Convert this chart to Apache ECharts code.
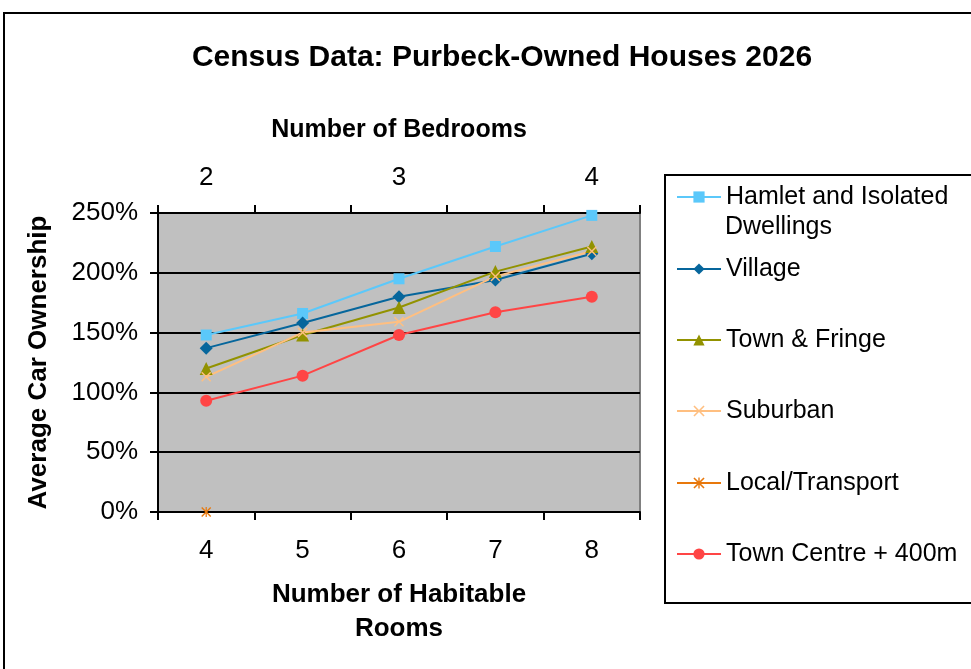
<!DOCTYPE html>
<html>
<head>
<meta charset="utf-8">
<script src="https://cdn.jsdelivr.net/npm/echarts@6/dist/echarts.min.js"></script>
<style>
  html, body { margin: 0; padding: 0; background: #fff; }
  #chart { width: 971px; height: 669px; }
</style>
</head>
<body>
<div id="chart"></div>
<script>
// habitable rooms (bottom axis) and bedrooms (top axis)
const rooms = ['4', '5', '6', '7', '8'];
const bedrooms = ['2', '', '3', '', '4'];

// average car ownership, %
const hamlet = [148, 166, 195, 222, 248];
const village = [137, 158, 180, 194, 216];
const townFringe = [120, 148, 171, 201, 222];
const suburban = [113, 150, 159, 197, 218];
const localTransport = [0, null, null, null, null];
const townCentre = [93, 114, 148, 167, 180];

const names = ['Hamlet and Isolated Dwellings', 'Village', 'Town & Fringe', 'Suburban', 'Local/Transport', 'Town Centre + 400m'];

const FONT = 'Liberation Sans, Arial, sans-serif';
const xMark = 'path://M0,1L1,0L5,4L9,0L10,1L6,5L10,9L9,10L5,6L1,10L0,9L4,5Z';
const starMark = 'path://M0,1L1,0L4.4,3.4L4.4,0L5.6,0L5.6,3.4L9,0L10,1L6,5L10,9L9,10L5.6,6.6L5.6,10L4.4,10L4.4,6.6L1,10L0,9L4,5Z';

const chart = echarts.init(document.getElementById('chart'));

function makeLine(name, data, color, symbol, size) {
  return {
    name: name,
    type: 'line',
    data: data,
    symbol: symbol,
    symbolSize: size,
    color: color,
    lineStyle: { width: 2, color: color },
    itemStyle: { color: color, borderWidth: 0 },
    z: 5
  };
}

// legend rows (centre y of each entry)
const legendY = [197, 269, 340, 411, 483, 554];
const legends = names.map(function (n, i) {
  return {
    data: [n],
    orient: 'vertical',
    left: 676,
    top: legendY[i] - 16,
    padding: 0,
    itemWidth: 44,
    itemHeight: 14,
    // first entry wraps, second line drawn below as graphic text
    formatter: i === 0 ? 'Hamlet and Isolated' : '{name}',
    textStyle: { color: '#000', fontSize: 25, fontFamily: FONT, lineHeight: 32 }
  };
});

const option = {
  animation: false,
  backgroundColor: '#fff',
  title: {
    text: 'Census Data: Purbeck-Owned Houses 2026',
    left: 497,
    textAlign: 'center',
    top: 38,
    textStyle: { color: '#000', fontSize: 30, fontWeight: 'bold', fontFamily: FONT }
  },
  graphic: [
    {
      type: 'rect',
      shape: { x: 4, y: 13, width: 1000, height: 700 },
      style: { fill: 'none', stroke: '#000', lineWidth: 2 },
      silent: true
    },
    {
      type: 'rect',
      shape: { x: 665, y: 175, width: 400, height: 428 },
      style: { fill: 'none', stroke: '#000', lineWidth: 2 },
      silent: true
    },
    {
      type: 'text',
      left: 725,
      top: 215,
      style: { text: 'Dwellings', fill: '#000', fontSize: 25, fontFamily: FONT },
      silent: true
    }
  ],
  legend: legends,
  grid: {
    left: 158,
    top: 213,
    width: 482,
    height: 299,
    show: true,
    backgroundColor: '#c0c0c0',
    borderColor: '#808080',
    borderWidth: 2
  },
  xAxis: [
    {
      type: 'category',
      data: rooms,
      position: 'bottom',
      boundaryGap: true,
      name: 'Number of Habitable\nRooms',
      nameLocation: 'middle',
      nameGap: 66,
      nameTextStyle: { color: '#000', fontSize: 26, fontWeight: 'bold', fontFamily: FONT, lineHeight: 34 },
      axisLine: { lineStyle: { color: '#000', width: 2 } },
      axisTick: { show: true, length: 8, lineStyle: { color: '#000', width: 2 } },
      axisLabel: { color: '#000', fontSize: 26, fontFamily: FONT, margin: 26 }
    },
    {
      type: 'category',
      data: bedrooms,
      position: 'top',
      boundaryGap: true,
      name: 'Number of Bedrooms',
      nameLocation: 'middle',
      nameGap: 70,
      nameTextStyle: { color: '#000', fontSize: 25, fontWeight: 'bold', fontFamily: FONT },
      axisLine: { lineStyle: { color: '#000', width: 2 } },
      axisTick: { show: true, length: 8, lineStyle: { color: '#000', width: 2 } },
      axisLabel: { color: '#000', fontSize: 26, fontFamily: FONT, margin: 22, interval: 0 }
    }
  ],
  yAxis: {
    type: 'value',
    min: 0,
    max: 250,
    interval: 50,
    name: 'Average Car Ownership',
    nameLocation: 'middle',
    nameRotate: 90,
    nameGap: 106,
    nameTextStyle: { color: '#000', fontSize: 26, fontWeight: 'bold', fontFamily: FONT },
    axisLine: { show: true, lineStyle: { color: '#000', width: 2 } },
    axisTick: { show: true, length: 8, lineStyle: { color: '#000', width: 2 } },
    axisLabel: { color: '#000', fontSize: 26, fontFamily: FONT, margin: 20, formatter: '{value}%' },
    splitLine: { show: true, lineStyle: { color: '#000', width: 2 } }
  },
  series: [
    makeLine(names[0], hamlet, '#5bc8fa', 'rect', 11),
    makeLine(names[1], village, '#06669c', 'diamond', 13),
    makeLine(names[2], townFringe, '#929200', 'triangle', 13),
    makeLine(names[3], suburban, '#ffbf80', xMark, 10),
    makeLine(names[4], localTransport, '#e8780c', starMark, 10),
    makeLine(names[5], townCentre, '#ff4545', 'circle', 12)
  ]
};

chart.setOption(option);
</script>
</body>
</html>
